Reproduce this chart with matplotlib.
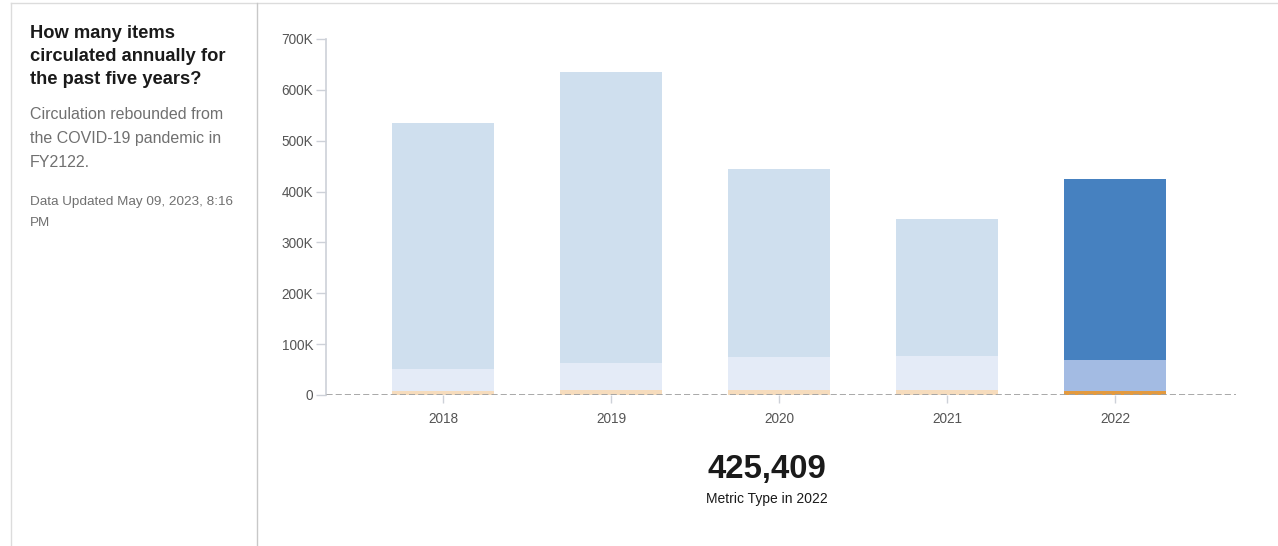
import matplotlib
matplotlib.use('Agg')
from matplotlib import pyplot as plt
from matplotlib.lines import Line2D
import numpy as np

plt.rcParams['font.family'] = ['Liberation Sans', 'DejaVu Sans']

years = ['2018', '2019', '2020', '2021', '2022']
# stacked segments, bottom to top
seg_orange = [7000, 10000, 10000, 10000, 7900]
seg_mid = [43500, 52500, 65500, 67500, 61500]
seg_top = [484000, 573000, 369000, 269000, 356009]
highlight = '2022'
total_label = '425,409'

title_lines = ['How many items', 'circulated annually for', 'the past five years?']
sub_lines = ['Circulation rebounded from', 'the COVID-19 pandemic in', 'FY2122.']
upd_lines = ['Data Updated May 09, 2023, 8:16', 'PM']

W, H = 1278, 546
fig = plt.figure(figsize=(W / 100, H / 100), dpi=100)

# frame lines of the card
fig.add_artist(Line2D([11 / W, 1], [1 - 3 / H, 1 - 3 / H], color='#dcdcdc', lw=1))
fig.add_artist(Line2D([11 / W, 11 / W], [0, 1 - 3 / H], color='#dcdcdc', lw=1))
fig.add_artist(Line2D([257 / W, 257 / W], [0, 1 - 3 / H], color='#c8c8c8', lw=1))

# left text panel, one line at a time (baselines in px from top)
for t, yb in zip(title_lines, [38, 61, 84]):
    fig.text(30 / W, 1 - yb / H, t, fontsize=13.2, fontweight='bold', color='#1a1a1a',
             va='baseline', ha='left')
for t, yb in zip(sub_lines, [119, 143, 167]):
    fig.text(30 / W, 1 - yb / H, t, fontsize=11.5, color='#707070', va='baseline', ha='left')
for t, yb in zip(upd_lines, [205, 226]):
    fig.text(30 / W, 1 - yb / H, t, fontsize=9.7, color='#707070', va='baseline', ha='left')

ax = fig.add_axes([326 / W, 1 - 395 / H, (1236 - 326) / W, (395 - 39) / H])

x = np.arange(len(years))
c_top = ['#4681c0' if y == highlight else '#cfdfee' for y in years]
c_mid = ['#a3bbe3' if y == highlight else '#e4ebf7' for y in years]
c_or = ['#e39a3f' if y == highlight else '#f6dcbd' for y in years]

width = 0.607
b1 = np.array(seg_orange)
b2 = b1 + np.array(seg_mid)
ax.bar(x, seg_orange, width, color=c_or, linewidth=0)
ax.bar(x, seg_mid, width, bottom=b1, color=c_mid, linewidth=0)
ax.bar(x, seg_top, width, bottom=b2, color=c_top, linewidth=0)

ax.axhline(0, color='#a0a0a0', lw=2, ls=(0, (2.2, 1.1)), zorder=5)

ax.set_xlim(-0.696, 4.72)
ax.set_ylim(0, 700000)
ax.set_xticks(x, years)
ax.set_yticks(np.arange(0, 700001, 100000),
              ['0'] + [f'{v}K' for v in range(100, 701, 100)])

for s in ['top', 'right', 'bottom']:
    ax.spines[s].set_visible(False)
ax.spines['left'].set_color('#cdd1d8')
ax.spines['left'].set_linewidth(1.2)
ax.tick_params(axis='y', length=7, width=1, color='#cdd1d8', labelcolor='#555555',
               labelsize=9.8, pad=2)
ax.tick_params(axis='x', length=6, width=1, color='#cdd1d8', labelcolor='#555555',
               labelsize=9.8, pad=6)

fig.text(767 / W, 1 - 478 / H, total_label, fontsize=23.8, fontweight='bold',
         color='#1a1a1a', ha='center', va='baseline')
fig.text(767 / W, 1 - 503 / H, 'Metric Type in ' + highlight, fontsize=10,
         color='#1a1a1a', ha='center', va='baseline')

fig.savefig('out.png', dpi=100, facecolor='white')
